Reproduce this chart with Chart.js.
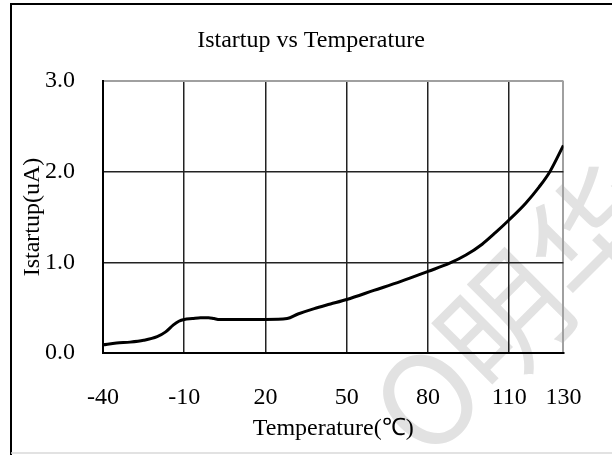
<!DOCTYPE html>
<html>
<head>
<meta charset="utf-8">
<script src="https://cdn.jsdelivr.net/npm/chart.js@4"></script>
<style>
  html, body { margin: 0; padding: 0; background: #fff; }
  #wrap { width: 612px; height: 455px; position: relative; }
</style>
</head>
<body>
<div id="wrap"><canvas id="c" width="612" height="455"></canvas></div>
<script>
const chartTitle = "Istartup vs Temperature";
const xTitle = "Temperature(\u2103)";
const yTitle = "Istartup(uA)";
const temperatures = [-40,-35,-30,-25,-20,-17,-14,-12,-10,-7,-4,-1,1,3,10,20,28,32,38,44,50,60,70,80,88,94,100,105,110,116,121,125,130];
const istartup = [0.09,0.11,0.12,0.14,0.18,0.23,0.31,0.35,0.37,0.38,0.39,0.39,0.38,0.37,0.37,0.37,0.38,0.43,0.49,0.54,0.59,0.69,0.79,0.90,0.99,1.08,1.20,1.33,1.47,1.65,1.83,2.00,2.29];
const xTickValues = [-40,-10,20,50,80,110,130];
const yTickValues = [0,1,2,3];
const watermarkText = "O\u660e\u534e";

const FONT = "'Liberation Serif', 'Times New Roman', serif";

const framePlugin = {
  id: 'frame',
  beforeDraw(chart) {
    const ctx = chart.ctx;
    ctx.save();
    ctx.fillStyle = '#fff';
    ctx.fillRect(0, 0, chart.width, chart.height);
    // faint watermark
    ctx.translate(515, 310);
    ctx.rotate(-Math.PI / 4);
    ctx.fillStyle = '#e2e2e2';
    ctx.font = "125px 'Noto Sans CJK SC'";
    ctx.textBaseline = 'middle';
    ctx.textAlign = 'center';
    ctx.fillText(watermarkText, 0, 0);
    ctx.restore();
  },
  afterDraw(chart) {
    const ctx = chart.ctx;
    ctx.save();
    ctx.strokeStyle = '#000';
    ctx.lineWidth = 2;
    ctx.beginPath();
    ctx.moveTo(11, 455);
    ctx.lineTo(11, 4);
    ctx.lineTo(612, 4);
    ctx.stroke();
    ctx.strokeStyle = '#d8d8d8';
    ctx.lineWidth = 1.5;
    ctx.beginPath();
    ctx.moveTo(11, 453);
    ctx.lineTo(612, 453);
    ctx.stroke();
    ctx.restore();
  }
};

new Chart(document.getElementById('c'), {
  type: 'line',
  data: {
    datasets: [{
      data: temperatures.map((t, i) => ({ x: t, y: istartup[i] })),
      borderColor: '#000',
      borderWidth: 3,
      pointRadius: 0,
      cubicInterpolationMode: 'monotone',
      fill: false
    }]
  },
  options: {
    responsive: false,
    animation: false,
    devicePixelRatio: 1,
    layout: { padding: { top: 10, left: 10, right: 0, bottom: 0 } },
    plugins: {
      legend: { display: false },
      tooltip: { enabled: false },
      title: {
        display: true,
        text: chartTitle,
        color: '#000',
        font: { family: FONT, size: 24, weight: 'normal' },
        padding: { top: 16, bottom: 26.2 }
      }
    },
    scales: {
      x: {
        type: 'linear',
        min: -40,
        max: 130,
        afterBuildTicks(scale) { scale.ticks = xTickValues.map(v => ({ value: v })); },
        afterFit(scale) { scale.height = 455 - 353; },
        ticks: {
          color: '#000',
          font: { family: FONT, size: 24 },
          padding: 30.6,
          autoSkip: false,
          maxRotation: 0,
          callback: v => String(v)
        },
        grid: {
          drawTicks: false,
          color: ctx => (ctx.tick && ctx.tick.value === 130) ? '#a0a0a0' : '#222',
          lineWidth: ctx => (ctx.tick && ctx.tick.value === 130) ? 2 : 1.5
        },
        border: { display: true, color: '#000', width: 2 },
        title: {
          display: true,
          text: xTitle,
          color: '#000',
          font: { family: FONT, size: 24 },
          padding: { top: 0, bottom: 11.6 }
        }
      },
      y: {
        min: 0,
        max: 3,
        afterBuildTicks(scale) { scale.ticks = yTickValues.map(v => ({ value: v })); },
        afterFit(scale) { scale.width = 93; },
        ticks: {
          color: '#000',
          font: { family: FONT, size: 24 },
          padding: 28,
          callback: v => Number(v).toFixed(1)
        },
        grid: {
          drawTicks: false,
          color: ctx => (ctx.tick && ctx.tick.value === 3) ? '#a0a0a0' : '#222',
          lineWidth: ctx => (ctx.tick && ctx.tick.value === 3) ? 2 : 1.5
        },
        border: { display: true, color: '#000', width: 2 },
        title: {
          display: true,
          text: yTitle,
          color: '#000',
          font: { family: FONT, size: 24 },
          padding: { top: 8.6, bottom: 0 }
        }
      },
      spacer: {
        type: 'linear',
        position: 'right',
        display: true,
        afterFit(scale) { scale.width = 45; },
        ticks: { display: false },
        grid: { display: false, drawOnChartArea: false },
        border: { display: false },
        title: { display: false }
      }
    }
  },
  plugins: [framePlugin]
});
</script>
</body>
</html>
